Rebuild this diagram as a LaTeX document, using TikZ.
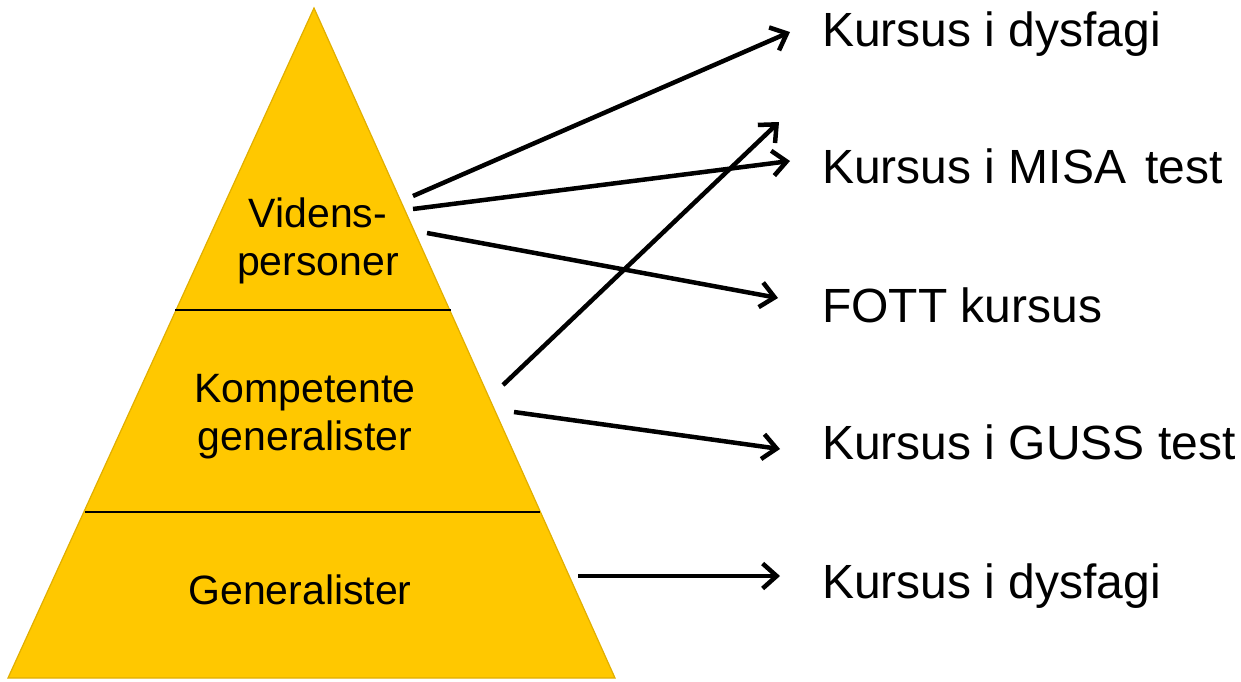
\documentclass[tikz,border=0pt]{standalone}
\usepackage{fontspec}
\setmainfont{Liberation Sans}
\usetikzlibrary{arrows.meta}
\definecolor{pyrfill}{RGB}{255,200,0}
\definecolor{pyredge}{RGB}{225,175,0}
\begin{document}
\begin{tikzpicture}[x=1pt,y=-1pt,
  arr/.style={line width=4.5pt,-{Straight Barb[length=14pt,width=25pt]}},
  divider/.style={line width=2.5pt,black},
  courselabel/.style={anchor=base west,inner sep=0pt,font=\fontsize{48}{56}\selectfont},
  pyrlabel/.style={align=center,inner sep=0pt,font=\fontsize{41}{48}\selectfont}]
\useasboundingbox (0,0) rectangle (1241,681);
% pyramid
\fill[pyrfill,draw=pyredge,line width=1.2pt] (314,8) -- (615,678) -- (8,678) -- cycle;
\draw[divider] (175,310) -- (451,310);
\draw[divider] (85,512) -- (540,512);
% pyramid labels
\node[pyrlabel] (viden) at (318,241) {Videns-\\personer};
\node[pyrlabel] (komp) at (305,417) {Kompetente\\generalister};
\node[pyrlabel,anchor=base] (gen) at (300,604) {Generalister};
% course labels
\node[courselabel] (k1) at (822,46) {Kursus i dysfagi};
\node[courselabel] (k2) at (822,183) {Kursus i MISA\hspace{0.12em} test};
\node[courselabel] (k3) at (822,322) {FOTT kursus};
\node[courselabel] (k4) at (822,459) {Kursus i GUSS test};
\node[courselabel] (k5) at (822,598) {Kursus i dysfagi};
% arrow ends
\coordinate (s1) at (413,196);
\coordinate (e1) at (790,32);
\coordinate (s2) at (413,209);
\coordinate (e2) at (790,161);
\coordinate (s3) at (427,233);
\coordinate (e3) at (778,298);
\coordinate (s4) at (503,385);
\coordinate (e4) at (779,122);
\coordinate (s5) at (514,412);
\coordinate (e5) at (780,449);
\coordinate (s6) at (578,576);
\coordinate (e6) at (780,576);
\draw[arr] (s1) -- (e1);
\draw[arr] (s2) -- (e2);
\draw[arr] (s3) -- (e3);
\draw[arr] (s4) -- (e4);
\draw[arr] (s5) -- (e5);
\draw[arr] (s6) -- (e6);
\end{tikzpicture}
\end{document}
